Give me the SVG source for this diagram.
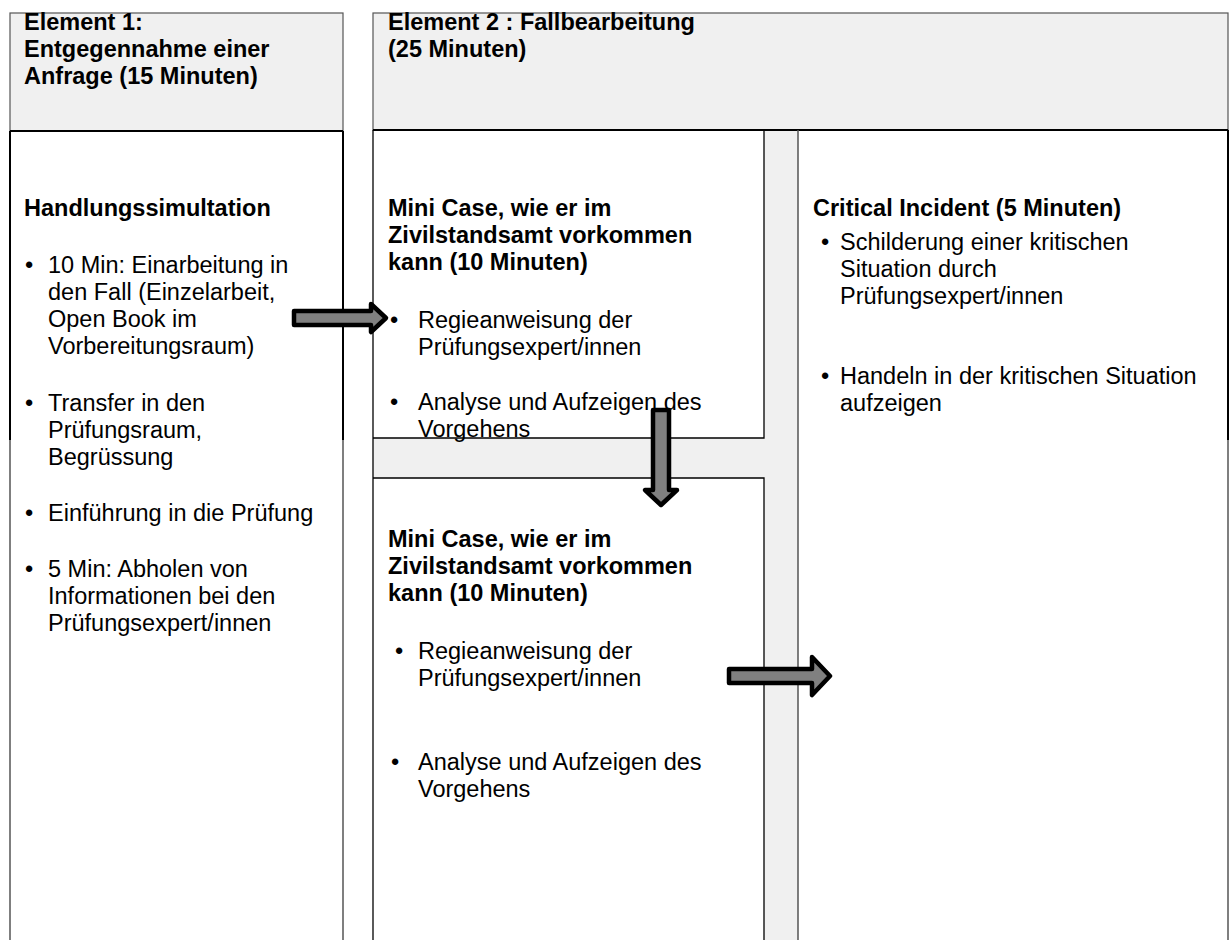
<svg xmlns="http://www.w3.org/2000/svg" width="1230" height="940" viewBox="0 0 1230 940">
<style>
text{font-family:"Liberation Sans",Arial,sans-serif;font-size:23.5px;fill:#000}
.b{font-weight:bold}
.hdr{fill:#f0f0f0;stroke:#555;stroke-width:1.2}
.band{fill:#f0f0f0;stroke:none}
.k{stroke:#000;stroke-width:2;fill:none}
.t{stroke:#000;stroke-width:1.3;fill:none}
.g{stroke:#555;stroke-width:1.5;fill:none}
.arrow{fill:#808080;stroke:#000;stroke-width:4.5;stroke-linejoin:round}
</style>
<rect width="1230" height="940" fill="#fff"/>
<g id="bands">
<rect class="band" x="764" y="130" width="34" height="810"/>
<rect class="band" x="373" y="438" width="425" height="40"/>
</g>
<g id="element1">
<rect class="hdr" x="10" y="13" width="333" height="118"/>
<line class="k" x1="10" y1="131" x2="343" y2="131"/>
<line class="k" x1="10" y1="131" x2="10" y2="440"/>
<line class="k" x1="343" y1="131" x2="343" y2="440"/>
<line class="g" x1="10" y1="440" x2="10" y2="940"/>
<line class="g" x1="343" y1="440" x2="343" y2="940"/>
<text class="b" x="24" y="30">Element 1:</text>
<text class="b" x="24" y="57">Entgegennahme einer</text>
<text class="b" x="24" y="84">Anfrage (15 Minuten)</text>
</g>
<g id="handlungssimulation">
<text class="b" x="24" y="216">Handlungssimultation</text>
<text x="25" y="273">•</text>
<text x="48" y="273">10 Min: Einarbeitung in</text>
<text x="48" y="300">den Fall (Einzelarbeit,</text>
<text x="48" y="327">Open Book im</text>
<text x="48" y="354">Vorbereitungsraum)</text>
<text x="25" y="411">•</text>
<text x="48" y="411">Transfer in den</text>
<text x="48" y="438">Prüfungsraum,</text>
<text x="48" y="465">Begrüssung</text>
<text x="25" y="521">•</text>
<text x="48" y="521">Einführung in die Prüfung</text>
<text x="25" y="577">•</text>
<text x="48" y="577">5 Min: Abholen von</text>
<text x="48" y="604">Informationen bei den</text>
<text x="48" y="631">Prüfungsexpert/innen</text>
</g>
<g id="element2">
<rect class="hdr" x="373" y="13" width="855" height="117"/>
<line class="k" x1="373" y1="130" x2="1228" y2="130"/>
<text class="b" x="388" y="30">Element 2 : Fallbearbeitung</text>
<text class="b" x="388" y="57">(25 Minuten)</text>
</g>
<g id="minicase1">
<line class="t" x1="373" y1="130" x2="373" y2="940"/>
<polyline class="t" points="764,130 764,438 373,438"/>
<text class="b" x="388" y="216">Mini Case, wie er im</text>
<text class="b" x="388" y="243">Zivilstandsamt vorkommen</text>
<text class="b" x="388" y="270">kann (10 Minuten)</text>
<text x="390" y="328">•</text>
<text x="418" y="328">Regieanweisung der</text>
<text x="418" y="355">Prüfungsexpert/innen</text>
<text x="390" y="410">•</text>
<text x="418" y="410">Analyse und Aufzeigen des</text>
<text x="418" y="437">Vorgehens</text>
</g>
<g id="minicase2">
<polyline class="t" points="373,478 764,478 764,940"/>
<text class="b" x="388" y="547">Mini Case, wie er im</text>
<text class="b" x="388" y="574">Zivilstandsamt vorkommen</text>
<text class="b" x="388" y="601">kann (10 Minuten)</text>
<text x="395" y="659">•</text>
<text x="418" y="659">Regieanweisung der</text>
<text x="418" y="686">Prüfungsexpert/innen</text>
<text x="391" y="770">•</text>
<text x="418" y="770">Analyse und Aufzeigen des</text>
<text x="418" y="797">Vorgehens</text>
</g>
<g id="critical">
<line class="g" x1="798" y1="130" x2="798" y2="940"/>
<line class="k" x1="1228" y1="130" x2="1228" y2="440"/>
<line class="g" x1="1228" y1="440" x2="1228" y2="940"/>
<text class="b" x="813" y="216">Critical Incident (5 Minuten)</text>
<text x="821" y="250">•</text>
<text x="840" y="250">Schilderung einer kritischen</text>
<text x="840" y="277">Situation durch</text>
<text x="840" y="304">Prüfungsexpert/innen</text>
<text x="821" y="384">•</text>
<text x="840" y="384">Handeln in der kritischen Situation</text>
<text x="840" y="411">aufzeigen</text>
</g>
<g id="connectors">
<polygon class="arrow" points="294,311 371,311 371,304 386,318 371,332 371,325 294,325"/>
<polygon class="arrow" points="653,410 669,410 669,490 677,490 661,505 645,490 653,490"/>
<polygon class="arrow" points="729,669 812,669 812,657 830,676 812,695 812,683 729,683"/>
</g>
</svg>
